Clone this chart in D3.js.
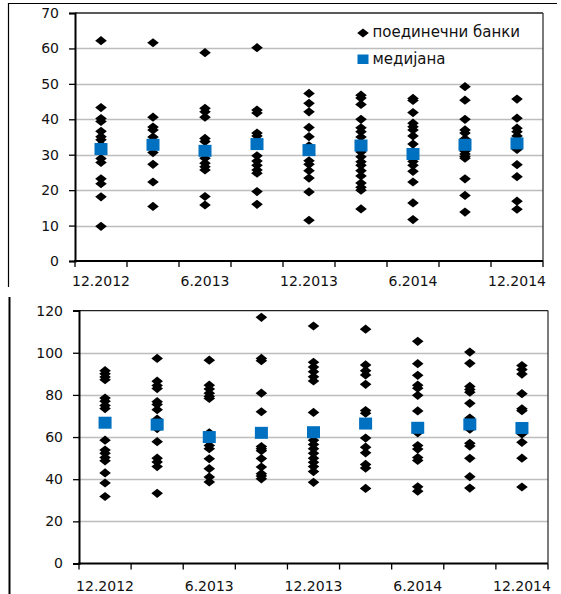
<!DOCTYPE html>
<html><head><meta charset="utf-8">
<script src="https://cdn.jsdelivr.net/npm/d3@7"></script>
<style>
html,body{margin:0;padding:0;background:#fff;}
text{font-family:"DejaVu Sans",Verdana,sans-serif;}
</style></head>
<body><svg id="c" width="561" height="594"></svg>
<script>
const categories = ["12.2012","3.2013","6.2013","9.2013","12.2013","3.2014","6.2014","9.2014","12.2014"];
const shownLabels = ["12.2012","6.2013","12.2013","6.2014","12.2014"];
const topTicks = [0,10,20,30,40,50,60,70];
const bottomTicks = [0,20,40,60,80,100,120];

const banksTop = [
  [62.2,43.3,40.2,39.4,36.6,35.1,34.2,32.8,31.0,28.9,27.8,23.2,21.8,18.1,9.8],
  [61.6,40.6,37.8,37.0,35.0,33.5,32.0,30.6,27.3,22.3,15.4],
  [58.8,43.1,42.1,40.6,34.6,33.7,29.0,27.6,26.6,25.7,18.2,15.8],
  [60.2,42.6,41.8,36.1,35.3,34.0,29.7,28.2,27.0,25.7,24.8,19.6,16.0],
  [47.3,44.5,42.1,37.7,35.1,32.5,28.3,27.3,25.5,23.4,19.5,11.5],
  [46.8,46.0,44.2,40.0,37.6,36.5,35.0,30.8,29.4,28.0,27.0,25.5,24.0,22.0,20.8,20.0,14.7],
  [45.9,45.3,41.9,38.9,37.9,37.0,35.3,33.0,31.0,28.1,27.0,25.3,22.3,16.4,11.7],
  [49.2,45.4,40.0,37.0,36.1,34.5,31.0,30.2,29.5,29.0,23.2,18.5,13.8],
  [45.7,40.3,37.5,36.5,35.3,34.0,31.5,27.2,23.8,16.9,14.6]
];
const medianTop = [31.6,32.8,31.1,33.0,31.3,32.6,30.2,32.8,33.2];

const banksBottom = [
  [91.5,90.0,88.5,87.2,78.5,77.0,75.0,73.5,58.5,53.8,52.3,50.3,48.7,43.0,38.2,31.8],
  [97.3,86.5,84.5,83.0,76.8,75.5,73.0,68.5,64.0,57.8,50.0,48.2,46.0,33.3],
  [96.5,84.6,82.8,80.8,79.3,78.3,62.0,58.0,56.0,54.5,49.7,45.0,41.0,38.7],
  [116.8,97.3,96.2,80.8,72.0,55.5,54.5,53.5,49.8,45.8,42.6,41.5,40.2],
  [112.7,95.5,93.2,91.0,88.6,86.6,71.7,58.5,56.5,54.5,52.3,50.0,48.0,46.0,43.6,38.5],
  [111.2,94.2,91.5,89.5,85.0,72.6,71.3,59.5,55.2,52.5,47.0,45.3,35.6],
  [105.4,94.8,89.3,84.6,83.2,79.8,72.4,62.0,56.0,54.3,50.3,48.9,36.4,34.3],
  [100.3,95.0,84.0,82.6,81.3,76.0,69.0,63.7,57.0,55.7,49.9,41.2,35.8],
  [93.9,92.0,89.9,80.6,73.4,72.5,61.5,57.5,50.0,36.3]
];
const medianBottom = [66.8,65.9,60.0,62.0,62.3,66.4,64.4,66.0,64.3];

const legendLabels = ["поединечни банки","медијана"];

const svg = d3.select("#c");
const diamondPath = "M0,-4.6L5.8,0L0,4.6L-5.8,0Z";
const BLUE = "#0070c0";

// outer frames
svg.append("line").attr("x1",8).attr("x2",557).attr("y1",3.5).attr("y2",3.5).attr("stroke","#000").attr("stroke-width",1.2);
svg.append("line").attr("x1",8.5).attr("x2",8.5).attr("y1",3).attr("y2",287).attr("stroke","#000").attr("stroke-width",1.2);
svg.append("line").attr("x1",9.5).attr("x2",9.5).attr("y1",297).attr("y2",594).attr("stroke","#000").attr("stroke-width",2);

function panel(cfg){
  const x = d3.scaleBand().domain(categories).range([cfg.left,cfg.right]);
  const y = d3.scaleLinear().domain([0,cfg.max]).range([cfg.bottom,cfg.top]);
  const g = svg.append("g");
  // gridlines
  g.selectAll(".grid").data(cfg.ticks.filter(t=>t>0 && t<cfg.max)).join("line")
    .attr("x1",cfg.left).attr("x2",cfg.right)
    .attr("y1",d=>Math.round(y(d))+0.5).attr("y2",d=>Math.round(y(d))+0.5)
    .attr("stroke","#bdbdbd").attr("stroke-width",1.3);
  // plot box top & right
  g.append("line").attr("x1",cfg.left).attr("x2",cfg.right).attr("y1",y(cfg.max)).attr("y2",y(cfg.max)).attr("stroke","#222").attr("stroke-width",1.3);
  g.append("line").attr("x1",cfg.right).attr("x2",cfg.right).attr("y1",y(cfg.max)).attr("y2",cfg.bottom).attr("stroke","#333").attr("stroke-width",1.3);
  // y axis
  const ya = g.append("g").attr("transform",`translate(${cfg.left},0)`)
    .call(d3.axisLeft(y).tickValues(cfg.ticks).tickSize(6).tickPadding(cfg.ypad));
  ya.select(".domain").attr("stroke","#000").attr("stroke-width",2);
  ya.selectAll(".tick line").attr("stroke","#000").attr("stroke-width",1.3);
  ya.selectAll("text").attr("font-size",cfg.fs).attr("fill","#111").attr("font-family","DejaVu Sans, Verdana, sans-serif");
  // x axis ticks at band boundaries
  const bounds = categories.map(c=>x(c)).concat([x(categories[categories.length-1])+x.bandwidth()]);
  g.selectAll(".xt").data(bounds).join("line")
    .attr("x1",d=>d).attr("x2",d=>d).attr("y1",cfg.bottom).attr("y2",cfg.bottom+6)
    .attr("stroke","#000").attr("stroke-width",1.3);
  g.append("line").attr("x1",cfg.left-1).attr("x2",cfg.right).attr("y1",cfg.bottom).attr("y2",cfg.bottom).attr("stroke","#000").attr("stroke-width",2);
  // x labels
  g.selectAll(".xl").data(shownLabels).join("text")
    .attr("x",d=>x(d)+x.bandwidth()/2).attr("y",cfg.xlabY)
    .attr("text-anchor","middle").attr("font-size",cfg.fs).attr("fill","#111").text(d=>d);
  // bank points
  cfg.banks.forEach((vals,i)=>{
    g.selectAll(null).data(vals).join("path")
      .attr("d",diamondPath)
      .attr("transform",d=>`translate(${x(categories[i])+x.bandwidth()/2},${y(d)})`)
      .attr("fill","#000");
  });
  // medians
  g.selectAll(".med").data(cfg.median).join("rect")
    .attr("x",(d,i)=>x(categories[i])+x.bandwidth()/2-6.5)
    .attr("y",d=>y(d)-6).attr("width",13).attr("height",12).attr("fill",BLUE);
  return {x,y,g};
}

panel({left:75,right:543,top:13,bottom:261,max:70,ticks:topTicks,banks:banksTop,median:medianTop,fs:14,ypad:10,xlabY:286});
panel({left:79,right:548,top:310.6,bottom:563.5,max:120,ticks:bottomTicks,banks:banksBottom,median:medianBottom,fs:14,ypad:10,xlabY:591});

// legend
const lg = svg.append("g");
lg.append("path").attr("d",diamondPath).attr("transform","translate(363,33)").attr("fill","#000");
lg.append("rect").attr("x",357.5).attr("y",54.5).attr("width",11).attr("height",9.5).attr("fill",BLUE);
lg.selectAll(".lt").data(legendLabels).join("text")
  .attr("x",372.5).attr("y",(d,i)=>37+i*26.5).attr("font-size",15).attr("fill","#111").text(d=>d);
</script></body></html>
